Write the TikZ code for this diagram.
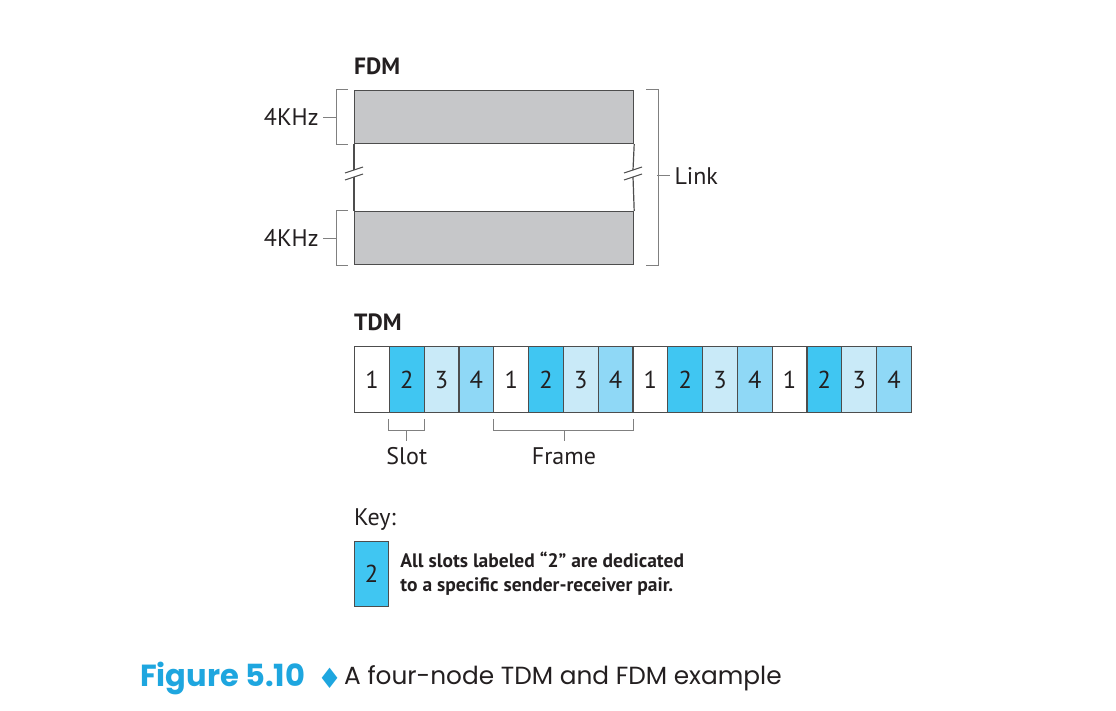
\documentclass[tikz,border=0pt]{standalone}
\usepackage{fontspec}
\setmainfont{PT Sans}
\newfontfamily\capfont{Poppins}
\newfontfamily\symfont{DejaVu Sans}
\usetikzlibrary{positioning}

\definecolor{bandgray}{HTML}{C6C7C9}
\definecolor{slotcol1}{HTML}{FFFFFF}
\definecolor{slotcol2}{HTML}{40C6F2}
\definecolor{slotcol3}{HTML}{C9EAF8}
\definecolor{slotcol4}{HTML}{8FD8F6}
\definecolor{figblue}{HTML}{1EA6DF}
\definecolor{linegray}{HTML}{4D4D4D}
\definecolor{inkblack}{HTML}{231F20}

\begin{document}
\begin{tikzpicture}[x=1pt,y=-1pt]
  \tikzstyle{band}=[draw=linegray,fill=bandgray,line width=1.2pt,minimum width=279pt,minimum height=53pt,inner sep=0pt,anchor=north west]
  \tikzstyle{slotbox}=[draw=linegray,line width=1.2pt,minimum width=34.8pt,minimum height=66pt,inner sep=0pt,anchor=north west,text=inkblack,font=\fontsize{24.5}{28}\selectfont]
  \tikzstyle{brace}=[draw=gray,line width=1pt]
  \tikzstyle{lbl}=[font=\fontsize{24}{28}\selectfont,text=inkblack,inner sep=1pt]
  \tikzstyle{title}=[font=\bfseries\fontsize{23.5}{28}\selectfont,text=inkblack,anchor=west,inner sep=0pt]

  \useasboundingbox (0,0) rectangle (1116,711);

  % FDM
  \node[title] (fdm) at (354,66) {FDM};
  \node[band] (topband) at (354,90) {};
  \node[band] (botband) at (354,211) {};

  \coordinate (lbrk) at (354,173.5);
  \coordinate (rbrk) at (633,173.5);
  \foreach \b/\a in {lbrk/west,rbrk/east} {
    \draw[linegray,line width=1.2pt] (topband.south \a) -- ([yshift=3.5pt]\b);
    \draw[linegray,line width=1.2pt] ([yshift=-3.5pt]\b) -- (botband.north \a);
    \draw[linegray,line width=1pt] ([shift={(-9,-0.5)}]\b) -- ([shift={(9,-6.5)}]\b);
    \draw[linegray,line width=1pt] ([shift={(-9,6.5)}]\b) -- ([shift={(9,0.5)}]\b);
  }

  \foreach \bnd in {topband,botband} {
    \draw[brace] ([xshift=-6pt]\bnd.north west) -- ([xshift=-18pt]\bnd.north west)
      -- ([xshift=-18pt]\bnd.south west) -- ([xshift=-6pt]\bnd.south west);
    \draw[brace] ([xshift=-18pt]\bnd.west) -- ([xshift=-31pt]\bnd.west)
      node[lbl,left=3pt] (\bnd lbl) {4KHz};
  }

  \draw[brace] ([xshift=12pt]topband.north east) -- ([xshift=24pt]topband.north east)
    -- ([xshift=24pt]botband.south east) -- ([xshift=12pt]botband.south east);
  \coordinate (linktip) at (657,176);
  \draw[brace] (linktip) -- ++(13,0) node[lbl,right=3pt] (link) {Link};

  % TDM
  \node[title] (tdm) at (354,322) {TDM};
  \foreach \i in {0,...,15} {
    \pgfmathtruncatemacro\n{mod(\i,4)+1}
    \node[slotbox,fill=slotcol\n] (slot\i) at (354+\i*34.8,346) {\n};
  }

  \draw[brace] ([yshift=-6pt]slot1.south west) -- ([yshift=-17pt]slot1.south west)
    -- ([yshift=-17pt]slot1.south east) -- ([yshift=-6pt]slot1.south east);
  \draw[brace] ([yshift=-17pt]slot1.south) -- ++(0,11) node[lbl,below=5pt] (slotlbl) {Slot};

  \draw[brace] ([yshift=-6pt]slot4.south west) -- ([yshift=-17pt]slot4.south west)
    -- ([yshift=-17pt]slot7.south east) -- ([yshift=-6pt]slot7.south east);
  \draw[brace] ([yshift=-17pt]slot5.south east) -- ++(0,11) node[lbl,below=5pt] (framelbl) {Frame};

  % key
  \node[lbl,anchor=west,inner sep=0pt] (key) at (354,520) {Key:};
  \node[slotbox,fill=slotcol2,minimum width=34pt,minimum height=65pt] (keybox) at (354,541) {2};
  \node[right=11pt of keybox,align=left,inner sep=0pt,text=inkblack,
        font=\bfseries\fontsize{19.5}{24}\selectfont] (keytext)
    {All slots labeled “2” are dedicated\\to a specific sender-receiver pair.};

  % caption
  \node[anchor=west,inner sep=0pt,text=figblue,font=\capfont\bfseries\fontsize{30.5}{34}\selectfont] (figno) at (140,678) {Figure 5.10};
  \node[anchor=west,inner sep=0pt,text=figblue,font=\symfont\fontsize{28}{32}\selectfont] (diam) at (317,678) {♦};
  \node[anchor=west,inner sep=0pt,text=inkblack,font=\capfont\fontsize{24.8}{30}\selectfont] (captext) at (344,678) {A four-node TDM and FDM example};
\end{tikzpicture}
\end{document}
